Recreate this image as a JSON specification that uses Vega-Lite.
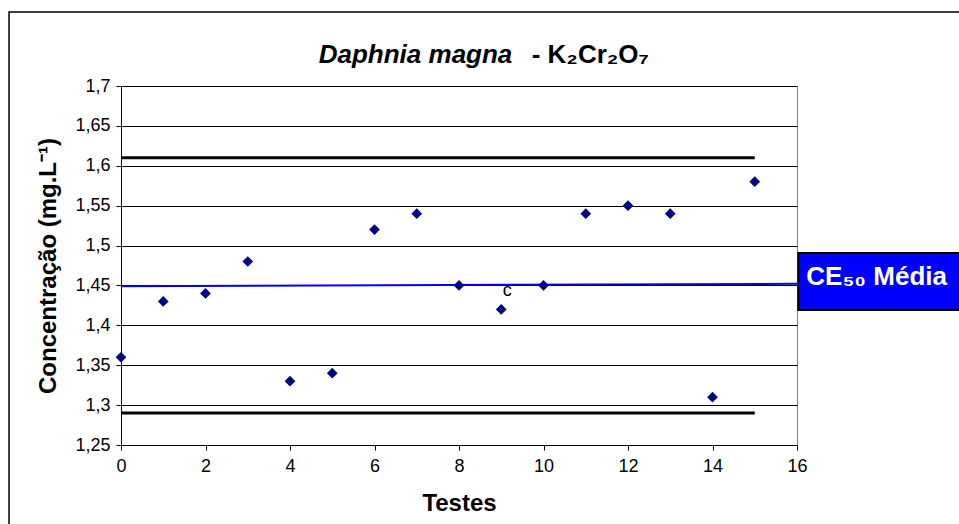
{
  "$schema": "https://vega.github.io/schema/vega-lite/v6.json",
  "autosize": {"type": "none"},
  "width": 676,
  "height": 359,
  "padding": {"left": 121, "top": 86, "right": 162, "bottom": 79},
  "background": "white",
  "config": {
    "font": "Liberation Sans",
    "view": {"stroke": "#808080", "strokeWidth": 1},
    "axis": {
      "labelFont": "Liberation Sans",
      "titleFont": "Liberation Sans",
      "labelColor": "black",
      "titleColor": "black",
      "domainColor": "black",
      "tickColor": "black",
      "labelFontSize": 18,
      "titleFontSize": 24,
      "titleFontWeight": "bold",
      "tickSize": 5,
      "labelOverlap": false,
      "labelFlush": false
    }
  },
  "datasets": {
    "testes": [
      {"teste": 0, "ce50": 1.36, "obs": ""},
      {"teste": 1, "ce50": 1.43, "obs": ""},
      {"teste": 2, "ce50": 1.44, "obs": ""},
      {"teste": 3, "ce50": 1.48, "obs": ""},
      {"teste": 4, "ce50": 1.33, "obs": ""},
      {"teste": 5, "ce50": 1.34, "obs": ""},
      {"teste": 6, "ce50": 1.52, "obs": ""},
      {"teste": 7, "ce50": 1.54, "obs": ""},
      {"teste": 8, "ce50": 1.45, "obs": ""},
      {"teste": 9, "ce50": 1.42, "obs": "c"},
      {"teste": 10, "ce50": 1.45, "obs": ""},
      {"teste": 11, "ce50": 1.54, "obs": ""},
      {"teste": 12, "ce50": 1.55, "obs": ""},
      {"teste": 13, "ce50": 1.54, "obs": ""},
      {"teste": 14, "ce50": 1.31, "obs": ""},
      {"teste": 15, "ce50": 1.58, "obs": ""}
    ],
    "limites": [
      {"limite": "superior", "x0": 0, "x1": 15, "valor": 1.61},
      {"limite": "inferior", "x0": 0, "x1": 15, "valor": 1.29}
    ],
    "media": [
      {"x0": 0, "y0": 1.449, "x1": 16, "y1": 1.452}
    ],
    "um": [{}]
  },
  "layer": [
    {
      "data": {"name": "limites"},
      "mark": {"type": "rule", "color": "black", "strokeWidth": 3, "clip": false},
      "encoding": {
        "x": {
          "field": "x0", "type": "quantitative",
          "scale": {"domain": [0, 16], "nice": false, "zero": false},
          "axis": {
            "title": "Testes",
            "values": [0, 2, 4, 6, 8, 10, 12, 14, 16],
            "tickCount": 20,
            "grid": false,
            "labelPadding": 7,
            "titlePadding": 16
          }
        },
        "x2": {"field": "x1"},
        "y": {
          "field": "valor", "type": "quantitative",
          "scale": {"domain": [1.25, 1.7], "nice": false, "zero": false},
          "axis": {
            "title": "Concentração (mg.L⁻¹)",
            "values": [1.25, 1.3, 1.35, 1.4, 1.45, 1.5, 1.55, 1.6, 1.65, 1.7],
            "tickCount": 20,
            "labelExpr": "replace(format(datum.value, '.2~f'), '.', ',')",
            "grid": true,
            "gridColor": "black",
            "gridOpacity": 1,
            "gridWidth": 1,
            "labelPadding": 6,
            "titlePadding": 14
          }
        }
      }
    },
    {
      "data": {"name": "media"},
      "mark": {"type": "rule", "color": "#0000FF", "strokeWidth": 2, "clip": false},
      "encoding": {
        "x": {"field": "x0", "type": "quantitative"},
        "x2": {"field": "x1"},
        "y": {"field": "y0", "type": "quantitative"},
        "y2": {"field": "y1"}
      }
    },
    {
      "data": {"name": "testes"},
      "mark": {"type": "point", "shape": "diamond", "filled": true, "color": "#000080", "size": 115, "opacity": 1, "clip": false},
      "encoding": {
        "x": {"field": "teste", "type": "quantitative"},
        "y": {"field": "ce50", "type": "quantitative"}
      }
    },
    {
      "data": {"name": "testes"},
      "transform": [{"filter": "datum.obs != ''"}],
      "mark": {"type": "text", "dx": 6, "dy": -18, "fontSize": 18, "font": "Liberation Sans", "color": "black", "clip": false},
      "encoding": {
        "x": {"field": "teste", "type": "quantitative"},
        "y": {"field": "ce50", "type": "quantitative"},
        "text": {"field": "obs"}
      }
    },
    {
      "data": {"name": "um"},
      "mark": {"type": "rect", "fill": "#0000FF", "stroke": "black", "strokeWidth": 2, "clip": false},
      "encoding": {
        "x": {"datum": 16.03, "type": "quantitative"},
        "x2": {"datum": 22},
        "y": {"datum": 1.4907, "type": "quantitative"},
        "y2": {"datum": 1.4193}
      }
    },
    {
      "data": {"name": "um"},
      "mark": {"type": "text", "text": "CE₅₀ Média", "align": "left", "baseline": "alphabetic", "fontSize": 26, "fontWeight": "bold", "color": "white", "font": "Liberation Sans", "clip": false},
      "encoding": {
        "x": {"datum": 16.22, "type": "quantitative"},
        "y": {"datum": 1.4506, "type": "quantitative"}
      }
    },
    {
      "data": {"name": "um"},
      "mark": {"type": "text", "text": "Daphnia magna", "align": "left", "baseline": "alphabetic", "fontSize": 26, "fontWeight": "bold", "fontStyle": "italic", "color": "black", "font": "Liberation Sans", "clip": false},
      "encoding": {
        "x": {"datum": 4.68, "type": "quantitative"},
        "y": {"datum": 1.7288, "type": "quantitative"}
      }
    },
    {
      "data": {"name": "um"},
      "mark": {"type": "text", "text": "- K₂Cr₂O₇", "align": "left", "baseline": "alphabetic", "fontSize": 26, "fontWeight": "bold", "color": "black", "font": "Liberation Sans", "clip": false},
      "encoding": {
        "x": {"datum": 9.72, "type": "quantitative"},
        "y": {"datum": 1.7288, "type": "quantitative"}
      }
    },
    {
      "data": {"name": "um"},
      "mark": {"type": "rect", "fill": null, "stroke": "black", "strokeWidth": 1.5, "clip": false},
      "encoding": {
        "x": {"datum": -2.65, "type": "quantitative"},
        "x2": {"datum": 25},
        "y": {"datum": 1.7927, "type": "quantitative"},
        "y2": {"datum": 1.0}
      }
    }
  ]
}
